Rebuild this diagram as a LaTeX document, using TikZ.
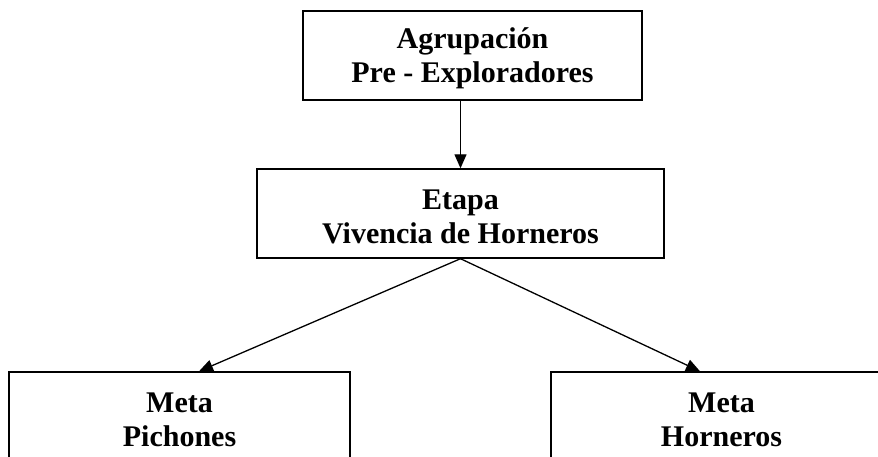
\documentclass[tikz,border=0pt]{standalone}
\usepackage{fontspec}
\setmainfont{Liberation Serif}
\usetikzlibrary{arrows.meta}
\begin{document}
\begin{tikzpicture}[x=1pt,y=1pt,
  box/.style={draw=black, line width=1.4pt, fill=white,
    inner sep=0pt, minimum height=89pt},
  lbl/.style={align=center, inner sep=0pt,
    font=\fontsize{30}{34}\selectfont\bfseries},
  arr/.style={line width=1.3pt, -{Triangle[length=14pt,width=12pt]}}]
\useasboundingbox (0,0) rectangle (878,-457);
\fill[white] (0,0) rectangle (878,-457);
\node[box, minimum width=339pt] (top) at (472.5,-55.5) {};
\node[box, minimum width=407pt] (mid) at (460.5,-213.5) {};
\node[box, minimum width=341pt] (left) at (179.5,-416.5) {};
\node[box, minimum width=341pt] (right) at (721.5,-416.5) {};
\node[lbl] (toptext) at ([yshift=-3pt]top.center) {Agrupación\\Pre - Exploradores};
\node[lbl] (midtext) at ([yshift=-3pt]mid.center) {Etapa\\Vivencia de Horneros};
\node[lbl] (lefttext) at ([yshift=-3pt]left.center) {Meta\\Pichones};
\node[lbl] (righttext) at ([yshift=-3pt]right.center) {Meta\\Horneros};
\coordinate (topout) at (top.south -| mid.north);
\coordinate (ltip) at ([xshift=19.5pt]left.north);
\coordinate (rtip) at ([xshift=-21.5pt]right.north);
\draw[arr] (topout) -- (mid.north);
\draw[arr] (mid.south) -- (ltip);
\draw[arr] (mid.south) -- (rtip);
\end{tikzpicture}
\end{document}
